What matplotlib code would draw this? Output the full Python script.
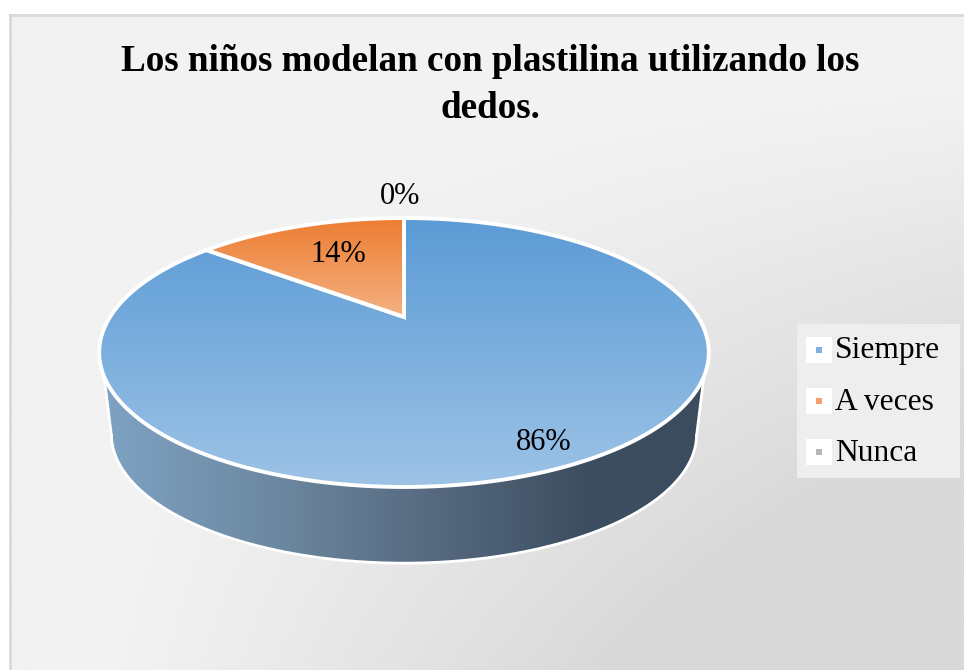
import numpy as np
import matplotlib
matplotlib.use('Agg')
import matplotlib.pyplot as plt
from matplotlib.colors import LinearSegmentedColormap
from matplotlib.patches import Polygon, Rectangle

title = "Los niños modelan con plastilina utilizando los\ndedos."
categories = ['Siempre', 'A veces', 'Nunca']
values = [85.7, 14.3, 0]
legend_colors = ['#7fb0e0', '#f4a070', '#b5b5b5']
slice_colors = [('#5b9bd5', '#9dc3e6'), ('#ed7d31', '#f4b183'), ('#a5a5a5', '#c9c9c9')]

plt.rcParams['font.family'] = ['Liberation Serif', 'DejaVu Serif']

W, H = 964, 670
fig = plt.figure(figsize=(W / 100, H / 100), dpi=100)
ax = fig.add_axes([0, 0, 1, 1])
ax.set_xlim(0, W)
ax.set_ylim(H, 0)
ax.axis('off')


def project(theta, scale=1.0, dy=0.0):
    # circle seen in perspective, theta measured clockwise from the top
    u = np.sin(theta)
    v = np.cos(theta)
    den = 1 + 0.264 * v
    return 404 + scale * 294 * u / den, 317 + dy + scale * -125.1 * v / den


def gradient(clip, cmap, extent, horizontal=False):
    g = np.linspace(0, 1, 256)
    g = g[None, :] if horizontal else g[:, None]
    im = ax.imshow(g, cmap=cmap, extent=extent, aspect='auto', zorder=clip.get_zorder())
    im.set_clip_path(clip)


# background
xx, yy = np.meshgrid(np.linspace(0, 1, 300), np.linspace(0, 1, 300))
shade = np.clip((xx * yy - 0.12) / 0.5, 0, 1)
bg_cmap = LinearSegmentedColormap.from_list('bg', ['#f2f2f2', '#d9d9d9'])
ax.imshow(shade, cmap=bg_cmap, extent=(10, W, H, 15), aspect='auto', zorder=0)
ax.plot([10, 10], [H, 15], color='#d9d9d9', lw=2.0, zorder=1)
ax.plot([10, W], [15, 15], color='#d9d9d9', lw=2.0, zorder=1)

# side wall
t = np.linspace(0, 2 * np.pi, 721)
top_x, top_y = project(t)
low_x, low_y = project(t, 0.96, 83)
keep_top = top_y >= 376
keep_low = low_y >= 435
order_top = np.argsort(top_x[keep_top])
order_low = np.argsort(low_x[keep_low])
wall_x = np.r_[top_x[keep_top][order_top][0], low_x[keep_low][order_low], top_x[keep_top][order_top][-1]]
wall_y = np.r_[top_y[keep_top][order_top][0], low_y[keep_low][order_low], top_y[keep_top][order_top][-1]]
wall = Polygon(np.c_[wall_x, wall_y], closed=True, fc='none', ec='none', zorder=3)
ax.add_patch(wall)
wall_cmap = LinearSegmentedColormap.from_list(
    'wall', [(0, '#7fa3c4'), (0.3, '#6b879f'), (0.55, '#56697f'), (0.8, '#3d4e60'), (1, '#3b4c5e')])
gradient(wall, wall_cmap, (100, 708, 563, 380), horizontal=True)
ax.plot(low_x[keep_low][order_low], low_y[keep_low][order_low], color='white', lw=2, zorder=4)
ax.plot(wall_x[:2], wall_y[:2], color='white', lw=2, zorder=4)
ax.plot(wall_x[-2:], wall_y[-2:], color='white', lw=2, zorder=4)

# slices, the first one starts at the top and runs clockwise
start = 0.0
for value, (c0, c1) in zip(values, slice_colors):
    if value == 0:
        continue
    end = start + value / sum(values) * 2 * np.pi
    a = np.linspace(start, end, 400)
    px, py = project(a)
    pts = np.c_[np.r_[404, px], np.r_[317, py]]
    wedge = Polygon(pts, closed=True, fc='none', ec='none', zorder=5)
    ax.add_patch(wedge)
    cmap = LinearSegmentedColormap.from_list('s', [c0, c1])
    gradient(wedge, cmap, (90, 720, pts[:, 1].max(), pts[:, 1].min()))
    ax.add_patch(Polygon(pts, closed=True, fc='none', ec='white', lw=2.8, joinstyle='miter', zorder=6))
    start = end

ax.set_xlim(0, W)
ax.set_ylim(H, 0)

# labels
label_pos = [(544, 442), (338, 254), (400, 196)]
for value, (lx, ly) in zip(values, label_pos):
    ax.text(lx, ly, f"{value:.0f}%", fontsize=22, ha='center', va='center', zorder=8)

ax.text(490, 85, title, fontsize=26.7, fontweight='bold', ha='center', va='center',
        linespacing=1.44, zorder=8)

# legend
ax.add_patch(Rectangle((797, 324), 163, 154, fc='#eeeeee', ec='none', zorder=7))
for i, (name, color) in enumerate(zip(categories, legend_colors)):
    cy = 349.5 + i * 51
    ax.add_patch(Rectangle((806, cy - 13), 26, 26, fc='white', ec='none', zorder=8))
    ax.add_patch(Rectangle((816, cy - 3), 6, 6, fc=color, ec='none', zorder=9))
    ax.text(835, cy + 1 + 0.5 * i, name, fontsize=22.7, ha='left', va='center', zorder=9)

fig.savefig('out.png', dpi=100)
